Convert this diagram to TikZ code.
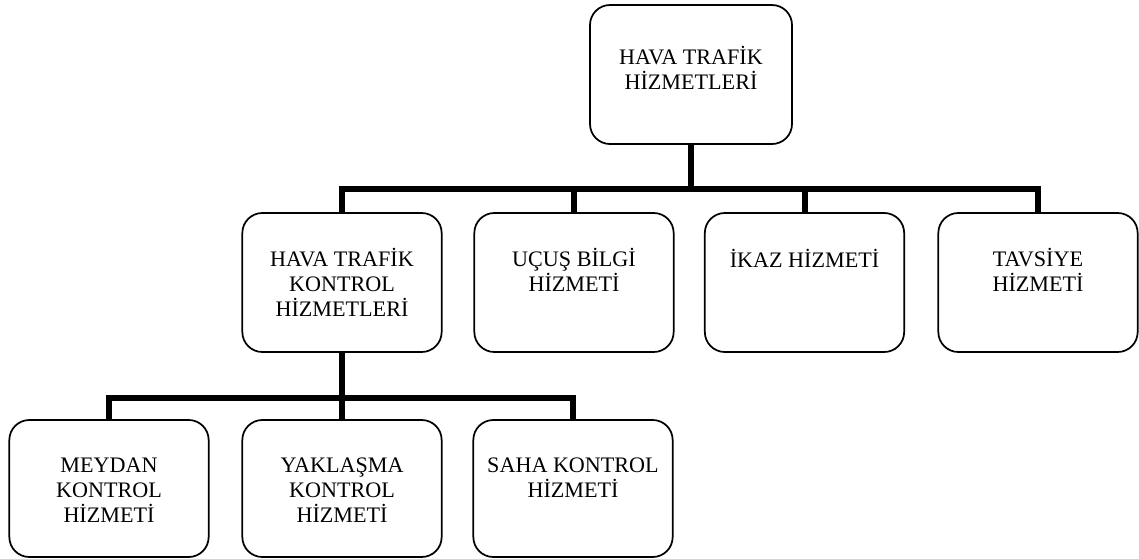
\documentclass[tikz,border=0pt]{standalone}
\usepackage{fontspec}
\setmainfont{Liberation Serif}
\begin{document}
\begin{tikzpicture}[x=0.75pt,y=-0.75pt,
  box/.style={draw, line width=1.3pt, rounded corners=15pt, inner sep=0pt, outer sep=0pt,
              minimum width=149.5pt, minimum height=104.25pt},
  lowbox/.style={box, minimum height=102.75pt},
  topbox/.style={box, minimum width=151.5pt},
  txt/.style={anchor=base, align=center, inner sep=0pt,
              font=\fontsize{16.6}{18.4}\selectfont},
  conn/.style={line width=4.5pt}]
\useasboundingbox (0,0) rectangle (1139,558);

% root (text anchored at the baseline of its last line)
\node[topbox] (root) at (691,74.5) {};
\node[txt] (root-t) at (691,89.5) {HAVA TRAFİK\\HİZMETLERİ};

% second level
\node[box] (atc) at (342,282.5) {};
\node[box] (fis) at (574,282.5) {};
\node[box] (alr) at (804.5,282.5) {};
\node[box] (adv) at (1038,282.5) {};
\node[txt] (atc-t) at (342,316) {HAVA TRAFİK\\KONTROL\\HİZMETLERİ};
\node[txt] (fis-t) at (574,291.5) {UÇUŞ BİLGİ\\HİZMETİ};
\node[txt] (alr-t) at (804.5,267) {İKAZ HİZMETİ};
\node[txt] (adv-t) at (1038,291.5) {TAVSİYE\\HİZMETİ};

% third level
\node[lowbox] (twr) at (109,488.5) {};
\node[lowbox] (app) at (342,488.5) {};
\node[lowbox] (acc) at (573,488.5) {};
\node[txt] (twr-t) at (109,522) {MEYDAN\\KONTROL\\HİZMETİ};
\node[txt] (app-t) at (342,522) {YAKLAŞMA\\KONTROL\\HİZMETİ};
\node[txt] (acc-t) at (573,497.5) {SAHA KONTROL\\HİZMETİ};

% connectors
\coordinate (j1) at (691,189);
\coordinate (j2) at (342,398);
\draw[conn] (root.south) -- (j1);
\draw[conn] (atc.north) |- (j1) -| (adv.north);
\draw[conn] (fis.north) -- (fis.north |- j1);
\draw[conn] (alr.north) -- (alr.north |- j1);
\draw[conn] (atc.south) -- (app.north);
\draw[conn] (twr.north) |- (j2) -| (acc.north);
\end{tikzpicture}
\end{document}
